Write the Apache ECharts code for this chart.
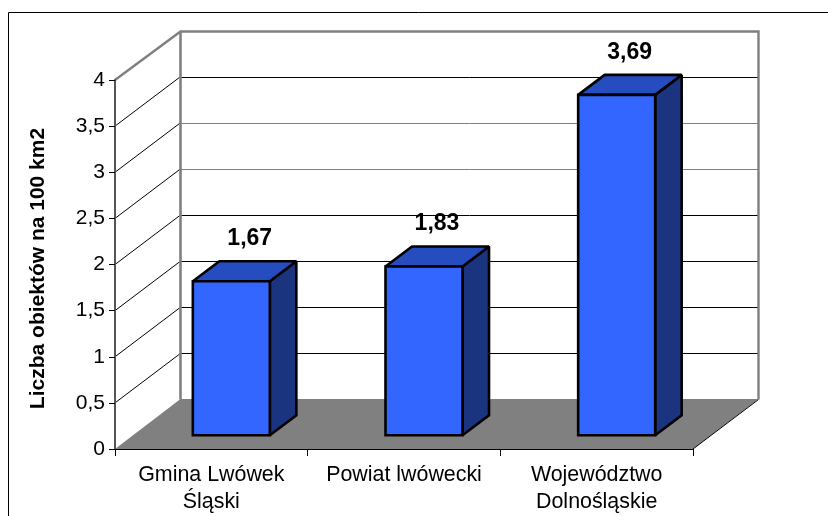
<!DOCTYPE html>
<html>
<head>
<meta charset="utf-8">
<style>html,body{margin:0;padding:0;background:#fff}#c{width:828px;height:516px}</style>
<script src="https://cdn.jsdelivr.net/npm/echarts@6/dist/echarts.min.js"></script>
</head>
<body>
<div id="c"></div>
<script>
const categories = ['Gmina Lwówek\nŚląski', 'Powiat lwówecki', 'Województwo\nDolnośląskie'];
const values = [1.67, 1.83, 3.69];
const valueLabels = ['1,67', '1,83', '3,69'];
const gridTicks = [0, 0.5, 1, 1.5, 2, 2.5, 3, 3.5, 4];
const grayTicks = [2.5, 3];

const WALL_DX = 65.5, WALL_DY = -49.5;
const BAR_OFF_X = 20, BAR_OFF_Y = -13.7;
const SIDE_DX = 26.5, SIDE_DY = -20;
const BAR_W = 77;
const FONT = '"Liberation Sans", Arial, sans-serif';

const chart = echarts.init(document.getElementById('c'), null, {renderer: 'canvas'});

function wallItem(params, api) {
  const cs = params.coordSys;
  const v = api.value(0);
  const y = api.coord([0, v])[1];
  const l = cs.x, r = cs.x + cs.width;
  const by = Math.round(y + WALL_DY) + 0.5;
  const floorY = cs.y + cs.height + WALL_DY;
  const children = [];
  if (v === 0) {
    children.push({type: 'polygon', shape: {points: [[l, y], [l + WALL_DX, y + WALL_DY - 0.5], [r + WALL_DX, y + WALL_DY - 0.5], [r, y]]},
      style: {fill: '#808080', stroke: null}});
    children.push({type: 'line', shape: {x1: r, y1: y, x2: r + WALL_DX, y2: y + WALL_DY},
      style: {stroke: '#000', lineWidth: 1}});
  } else if (v === 4) {
    children.push({type: 'polyline', shape: {points: [[l, y], [l + WALL_DX, by], [r + WALL_DX, by], [r + WALL_DX, floorY]]},
      style: {stroke: '#808080', lineWidth: 2.4, fill: null}});
    children.push({type: 'line', shape: {x1: l + WALL_DX, y1: by, x2: l + WALL_DX, y2: floorY},
      style: {stroke: '#808080', lineWidth: 2.6}});
  } else {
    const col = grayTicks.includes(v) ? '#808080' : '#000';
    children.push({type: 'line', shape: {x1: l + WALL_DX, y1: by, x2: r + WALL_DX, y2: by},
      style: {stroke: col, lineWidth: 1}});
    children.push({type: 'line', shape: {x1: l, y1: y, x2: l + WALL_DX, y2: y + WALL_DY},
      style: {stroke: '#000', lineWidth: 1}});
  }
  return {type: 'group', children};
}

function barItem(params, api) {
  const i = api.value(0);
  const top = api.coord([i, api.value(1)]);
  const base = api.coord([i, 0]);
  const x0 = top[0] - BAR_W / 2 + BAR_OFF_X, x1 = x0 + BAR_W;
  const yt = top[1] + BAR_OFF_Y, yb = base[1] + BAR_OFF_Y;
  const edge = {stroke: '#000', lineWidth: 2.6, lineJoin: 'miter', miterLimit: 1.5};
  const labelDx = i === 0 ? 38.4 : 33;
  return {type: 'group', children: [
    {type: 'polygon', shape: {points: [[x1, yt], [x1 + SIDE_DX, yt + SIDE_DY], [x1 + SIDE_DX, yb + SIDE_DY], [x1, yb]]},
      style: Object.assign({fill: '#1A347F'}, edge)},
    {type: 'polygon', shape: {points: [[x0, yt], [x0 + SIDE_DX, yt + SIDE_DY], [x1 + SIDE_DX, yt + SIDE_DY], [x1, yt]]},
      style: Object.assign({fill: '#264DBF'}, edge)},
    {type: 'rect', shape: {x: x0, y: yt, width: BAR_W, height: yb - yt},
      style: Object.assign({fill: '#3366FF'}, edge)},
    {type: 'text', x: top[0] + labelDx, y: yt - 42.5,
      style: {text: valueLabels[i], font: 'bold 23px ' + FONT, fill: '#000', textAlign: 'center', textVerticalAlign: 'middle'}}
  ]};
}

chart.setOption({
  animation: false,
  backgroundColor: '#fff',
  grid: {left: 115, right: 135, top: 80, bottom: 66, containLabel: false},
  graphic: [{type: 'polyline', silent: true, shape: {points: [[8.5, 516], [8.5, 12.5], [828, 12.5]]},
    style: {stroke: '#000', lineWidth: 1, fill: null}}],
  xAxis: {
    type: 'category', data: categories, z: 5,
    axisLine: {lineStyle: {color: '#000', width: 1}},
    axisTick: {show: true, length: 7, alignWithLabel: false, lineStyle: {color: '#000'}},
    axisLabel: {color: '#000', fontFamily: FONT, fontSize: 21.4, lineHeight: 27, margin: 13, interval: 0},
    splitLine: {show: false}
  },
  yAxis: {
    type: 'value', min: 0, max: 4, interval: 0.5, z: 5,
    name: 'Liczba obiektów na 100 km2', nameLocation: 'middle', nameGap: 66,
    nameTextStyle: {color: '#000', fontFamily: FONT, fontSize: 21, fontWeight: 'bold', padding: [0, 8, 0, 0]},
    axisLine: {show: true, lineStyle: {color: '#555', width: 2}},
    axisTick: {show: true, length: 6, lineStyle: {color: '#000'}},
    axisLabel: {color: '#000', fontFamily: FONT, fontSize: 21, margin: 10, padding: [3, 0, 0, 0],
      formatter: v => String(v).replace('.', ',')},
    splitLine: {show: false}
  },
  series: [
    {type: 'custom', coordinateSystem: 'cartesian2d', renderItem: wallItem, clip: false, silent: true, z: 1,
      encode: {y: 0}, data: gridTicks.map(v => [v])},
    {type: 'custom', coordinateSystem: 'cartesian2d', renderItem: barItem, clip: false, silent: true, z: 3,
      encode: {x: 0, y: 1}, data: values.map((v, i) => [i, v])}
  ]
});
</script>
</body>
</html>
